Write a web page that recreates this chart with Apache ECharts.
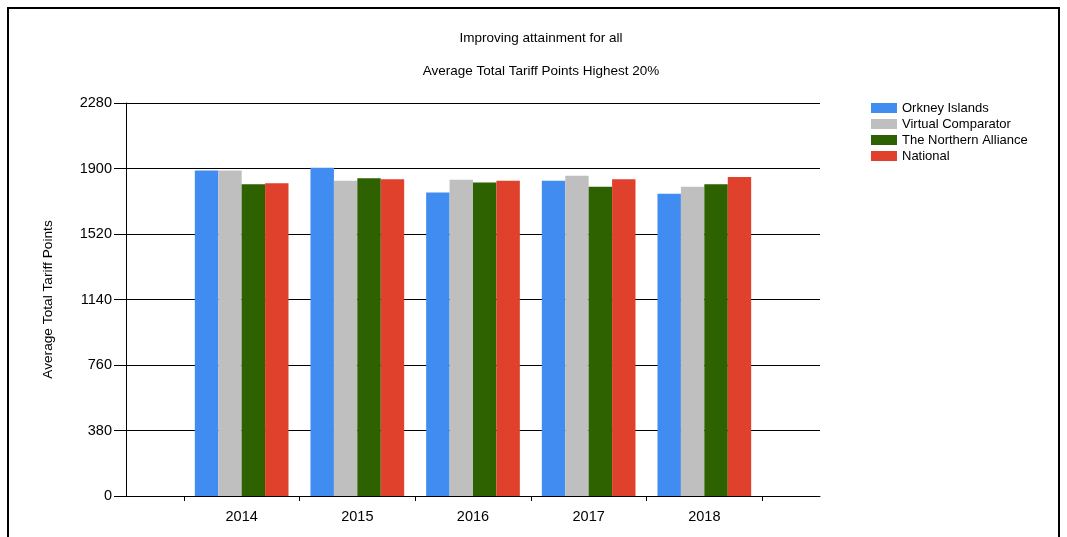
<!DOCTYPE html>
<html>
<head>
<meta charset="utf-8">
<script src="https://cdn.jsdelivr.net/npm/echarts@6/dist/echarts.min.js"></script>
<style>
html,body{margin:0;padding:0;background:#fff;}
#chart{width:1067px;height:537px;}
</style>
</head>
<body>
<div id="chart"></div>
<script>
// ---- data ----
const years = ['2014', '2015', '2016', '2017', '2018'];
const orkney = [1889, 1904, 1761, 1829, 1753];
const virtualComparator = [1889, 1829, 1835, 1858, 1794];
const northernAlliance = [1809, 1844, 1819, 1794, 1809];
const national = [1815, 1837, 1829, 1837, 1850];
const seriesNames = ['Orkney Islands', 'Virtual Comparator', 'The Northern Alliance', 'National'];
const yTicks = [0, 380, 760, 1140, 1520, 1900, 2280];
const titleLine1 = 'Improving attainment for all';
const titleLine2 = 'Average Total Tariff Points Highest 20%';
const yAxisName = 'Average Total Tariff Points';

const colors = ['#418cf0', '#bfbfbf', '#2e6100', '#e0412d'];
const allValues = [orkney, virtualComparator, northernAlliance, national];
const FONT = '"Liberation Sans", Arial, sans-serif';

const chart = echarts.init(document.getElementById('chart'), null, {renderer: 'canvas'});
const positions = years.map((y, i) => i + 1);

const option = {
  animation: false,
  backgroundColor: '#ffffff',
  textStyle: {fontFamily: FONT},
  title: [
    {text: titleLine1, left: 536, textAlign: 'center', top: 26, textStyle: {fontFamily: FONT, fontSize: 13.5, fontWeight: 'normal', color: '#000'}},
    {text: titleLine2, left: 536, textAlign: 'center', top: 59, textStyle: {fontFamily: FONT, fontSize: 13.5, fontWeight: 'normal', color: '#000'}}
  ],
  legend: {
    orient: 'vertical',
    left: 866,
    top: 96,
    itemWidth: 26,
    itemHeight: 10,
    itemGap: 2,
    icon: 'rect',
    data: seriesNames,
    textStyle: {fontFamily: FONT, fontSize: 13, color: '#000', lineHeight: 14}
  },
  grid: {left: 126, right: 247, top: 103, bottom: 41, containLabel: false},
  xAxis: {
    type: 'value',
    min: 0,
    max: 6,
    interval: 1,
    axisLine: {show: true, onZero: false, lineStyle: {color: '#000', width: 1}},
    axisTick: {show: true, length: 5, customValues: [0.5, 1.5, 2.5, 3.5, 4.5, 5.5], lineStyle: {color: '#000'}},
    axisLabel: {
      show: true,
      customValues: positions,
      margin: 13,
      fontFamily: FONT, fontSize: 14.5, color: '#000',
      formatter: v => years[Math.round(v) - 1] || ''
    },
    splitLine: {show: false}
  },
  yAxis: {
    type: 'value',
    min: yTicks[0],
    max: yTicks[yTicks.length - 1],
    interval: yTicks[1] - yTicks[0],
    name: yAxisName,
    nameLocation: 'middle',
    nameGap: 71,
    nameTextStyle: {fontFamily: FONT, fontSize: 13.7, color: '#000'},
    axisLine: {show: true, lineStyle: {color: '#000', width: 1}},
    axisTick: {show: true, length: 12, lineStyle: {color: '#000'}},
    axisLabel: {margin: 14, fontFamily: FONT, fontSize: 14.5, color: '#000', formatter: v => String(v)},
    splitLine: {show: true, lineStyle: {color: '#000', width: 1}}
  },
  series: seriesNames.map((name, si) => ({
    name: name,
    type: 'bar',
    barGap: '0%',
    barCategoryGap: '19%',
    itemStyle: {color: colors[si]},
    data: allValues[si].map((v, i) => [positions[i], v])
  })),
  graphic: [{
    type: 'rect',
    silent: true,
    z: 100,
    shape: {x: 8, y: 8, width: 1051, height: 545},
    style: {fill: 'none', stroke: '#000', lineWidth: 2}
  }]
};
chart.setOption(option);
</script>
</body>
</html>
